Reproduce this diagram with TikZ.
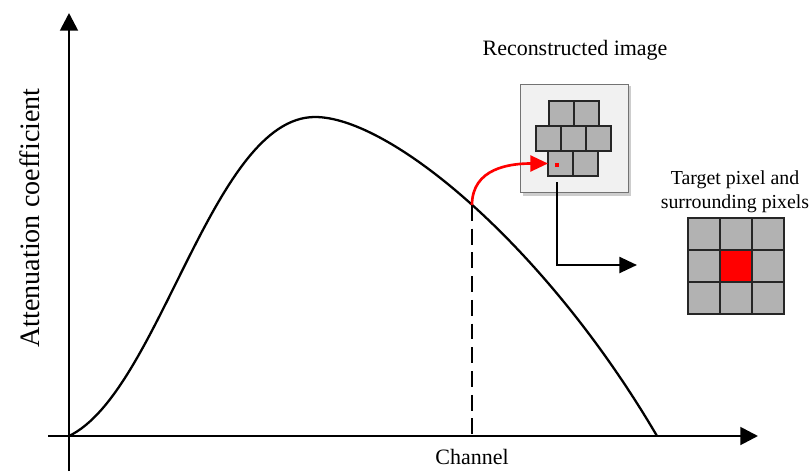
\documentclass[tikz,border=0pt]{standalone}
\usepackage{fontspec}
\setmainfont{Liberation Serif}
\usetikzlibrary{arrows.meta,positioning}
\definecolor{cellgray}{RGB}{178,178,178}
\definecolor{framegray}{RGB}{241,241,241}
\definecolor{shadowgray}{RGB}{205,205,205}

\tikzset{
    axis/.style={line width=1.6pt, -{Triangle[width=10pt,length=10pt]}},
    curve/.style={line width=1.3pt},
    guide/.style={line width=1.2pt, dash pattern=on 9pt off 4.5pt},
    cell/.style={draw=black!85, fill=cellgray, line width=0.6pt, minimum size=0.5cm, inner sep=0pt, outer sep=0pt},
    bigcell/.style={cell, minimum size=0.64cm},
    label/.style={font=\fontsize{12.5}{14.5}\selectfont},
}

\begin{document}
\begin{tikzpicture}[x=0.02cm, y=-0.02cm]
    \useasboundingbox (0,0) rectangle (810,473);

    % axes
    \coordinate (O) at (69,436);
    \coordinate (ybot) at (69,471);
    \coordinate (ytop) at (69,13);
    \coordinate (xleft) at (48,436);
    \coordinate (xright) at (758,436);
    \draw [axis] (ybot) -- (ytop);
    \draw [axis] (xleft) -- (xright);
    \node [rotate=90, font=\fontsize{16}{18}\selectfont] (ylabel) at (30,218) {Attenuation coefficient};
    \node [label] (xlabel) at (472,457) {Channel};

    % attenuation curve
    \coordinate (peak) at (315,117);
    \coordinate (tail) at (657,436);
    \coordinate (hit) at (472,205);
    \draw [curve] (O) .. controls (160,392) and (212,117) .. (peak)
        .. controls (390,117) and (545,245) .. (tail);
    \draw [guide] (hit) -- (hit |- O);

    % reconstructed image
    \fill [shadowgray] (523,86) rectangle (631,196);
    \node [draw=black!55, fill=framegray, line width=0.5pt, minimum width=2.16cm, minimum height=2.16cm, inner sep=0pt] (recon) at (574,138) {};
    \node [label] (recontext) at (575,50) {Reconstructed image};
    \foreach \x [count=\i] in {549,574}
        \node [cell, anchor=north west] (top\i) at (\x,101) {};
    \foreach \x [count=\i] in {536,561,586}
        \node [cell, anchor=north west] (mid\i) at (\x,126) {};
    \foreach \x [count=\i] in {548,573}
        \node [cell, anchor=north west] (bot\i) at (\x,151) {};
    \node [fill=red, minimum size=0.09cm, inner sep=0pt] (dot) at (557,165) {};

    % target pixel and neighbours
    \node [font=\fontsize{11.3}{13.5}\selectfont, align=center, inner sep=0pt] (targettext) at (735,192) {Target pixel and\\surrounding pixels};
    \foreach \r in {0,1,2}
        \foreach \c in {0,1,2}
            \node [bigcell, anchor=north west] (g\r\c) at (688+32*\c,218+32*\r) {};
    \node [bigcell, fill=red] at (g11) {};

    % connectors
    \draw [red, line width=1.5pt, -{Triangle[width=9pt,length=10pt]}] (hit) to [out=90, in=180, looseness=1.1] (bot1.west);
    \coordinate (tap) at (557,182);
    \coordinate (sink) at (637,265);
    \draw [line width=1.5pt, -{Triangle[width=9pt,length=10pt]}] (tap) |- (sink);
\end{tikzpicture}
\end{document}
